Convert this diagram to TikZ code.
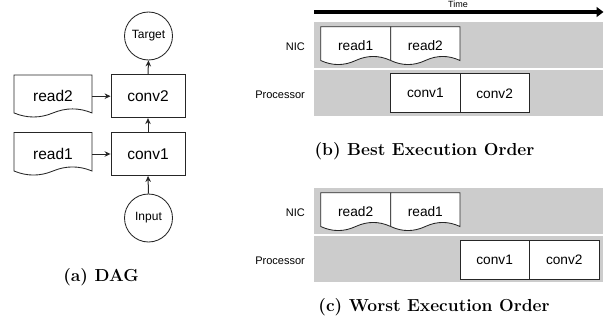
\documentclass[tikz,border=0pt]{standalone}
\usepackage{fontspec}
\newfontfamily\dfont{Liberation Sans}
\usetikzlibrary{arrows.meta}
\tikzset{
  ln/.style={draw=black!85, line width=0.85pt},
  dtxt/.style={font=\dfont\fontsize{13.7}{15}\selectfont, inner sep=0pt},
  dagtxt/.style={font=\dfont\fontsize{15.5}{17}\selectfont, inner sep=0pt},
  small/.style={font=\dfont\fontsize{11}{13}\selectfont, inner sep=0pt},
  band/.style={fill=black!20, draw=none, minimum width=289pt, minimum height=46pt, inner sep=0pt},
  procbox/.style={ln, fill=white, dtxt, minimum height=39pt, minimum width=69.3pt},
  dagbox/.style={ln, fill=white, dagtxt, minimum width=74pt, minimum height=43pt},
  circ/.style={ln, circle, fill=white, minimum size=48pt, inner sep=0pt, font=\dfont\fontsize{12}{14}\selectfont},
  arr/.style={ln, line width=1pt, -{Stealth[length=6pt,width=5.5pt]}},
  captxt/.style={font=\bfseries\fontsize{17.4}{20}\selectfont, inner sep=0pt, anchor=base}
}
% document shape: centre x, centre y, width, height
\newcommand\docpath[4]{%
  \draw[ln, fill=white] ({#1-#3/2},{#2-#4/2}) -- ({#1+#3/2},{#2-#4/2}) -- ({#1+#3/2},{#2+#4/2-4.5})
   .. controls ({#1+#3/2-#3/6},{#2+#4/2-9.9}) and ({#1+#3/6},{#2+#4/2-9.9}) .. ({#1},{#2+#4/2-4.5})
   .. controls ({#1-#3/6},{#2+#4/2+0.9}) and ({#1-#3/2+#3/6},{#2+#4/2+0.9}) .. ({#1-#3/2},{#2+#4/2-4.5}) -- cycle;}
\begin{document}
\begin{tikzpicture}[x=1pt, y=-1pt]
\useasboundingbox (0,0) rectangle (605,324);

% ---------- (a) DAG ----------
\node[circ] (tgt) at (148.5,36) {Target};
\node[circ] (inp) at (148.5,218) {Input};
\node[dagbox] (c2) at (148,96.2) {conv2};
\node[dagbox] (c1) at (148,154) {conv1};
\docpath{53}{96.2}{78}{42.5}
\node[dagtxt, minimum width=78pt, minimum height=42.5pt] (r2) at (53,96.2) {read2};
\docpath{53}{154}{78}{43}
\node[dagtxt, minimum width=78pt, minimum height=43pt] (r1) at (53,154) {read1};
\draw[arr] (r2.east) -- (c2.west);
\draw[arr] (r1.east) -- (c1.west);
\draw[arr] (inp.north) -- (c1.south);
\draw[arr] (c1.north) -- (c2.south);
\draw[arr] (c2.north) -- (tgt.south);
\node[captxt] (capa) at (101,281.7) {(a) DAG};

% ---------- time arrow ----------
\coordinate (t0) at (314,12);
\coordinate (t1) at (603.5,12);
\draw[line width=3.6pt, -{Triangle[length=7pt,width=10pt]}] (t0) -- (t1);
\node[font=\dfont\fontsize{9}{11}\selectfont, inner sep=0pt, anchor=base] (time) at (458,7.6) {Time};

% ---------- (b) Best ----------
\node[band] (bn) at (458.5,44.7) {};
\node[band] (bp) at (458.5,93.3) {};
\node[small, anchor=east] (lbn) at (305,46.5) {NIC};
\node[small, anchor=east] (lbp) at (305,95) {Processor};
\docpath{355.7}{45.85}{70}{38.3}
\node[dtxt, minimum width=70pt, minimum height=38.3pt] (br1) at (355.7,45.85) {read1};
\docpath{425.35}{45.85}{69.3}{38.3}
\node[dtxt, minimum width=69.3pt, minimum height=38.3pt] (br2) at (425.35,45.85) {read2};
\node[procbox] (bc1) at (425.35,93.35) {conv1};
\node[procbox] (bc2) at (494.65,93.35) {conv2};
\node[captxt] (capb) at (424.5,155) {(b) Best Execution Order};

% ---------- (c) Worst ----------
\node[band] (cn) at (458.5,211) {};
\node[band] (cp) at (458.5,259.3) {};
\node[small, anchor=east] (lcn) at (305,212.5) {NIC};
\node[small, anchor=east] (lcp) at (305,260.5) {Processor};
\docpath{355.7}{211.85}{70}{38.3}
\node[dtxt, minimum width=70pt, minimum height=38.3pt] (cr2) at (355.7,211.85) {read2};
\docpath{425.35}{211.85}{69.3}{38.3}
\node[dtxt, minimum width=69.3pt, minimum height=38.3pt] (cr1) at (425.35,211.85) {read1};
\node[procbox] (cc1) at (494.65,259.65) {conv1};
\node[procbox] (cc2) at (564.3,259.65) {conv2};
\node[captxt] (capc) at (434,311.7) {(c) Worst Execution Order};
\end{tikzpicture}
\end{document}
